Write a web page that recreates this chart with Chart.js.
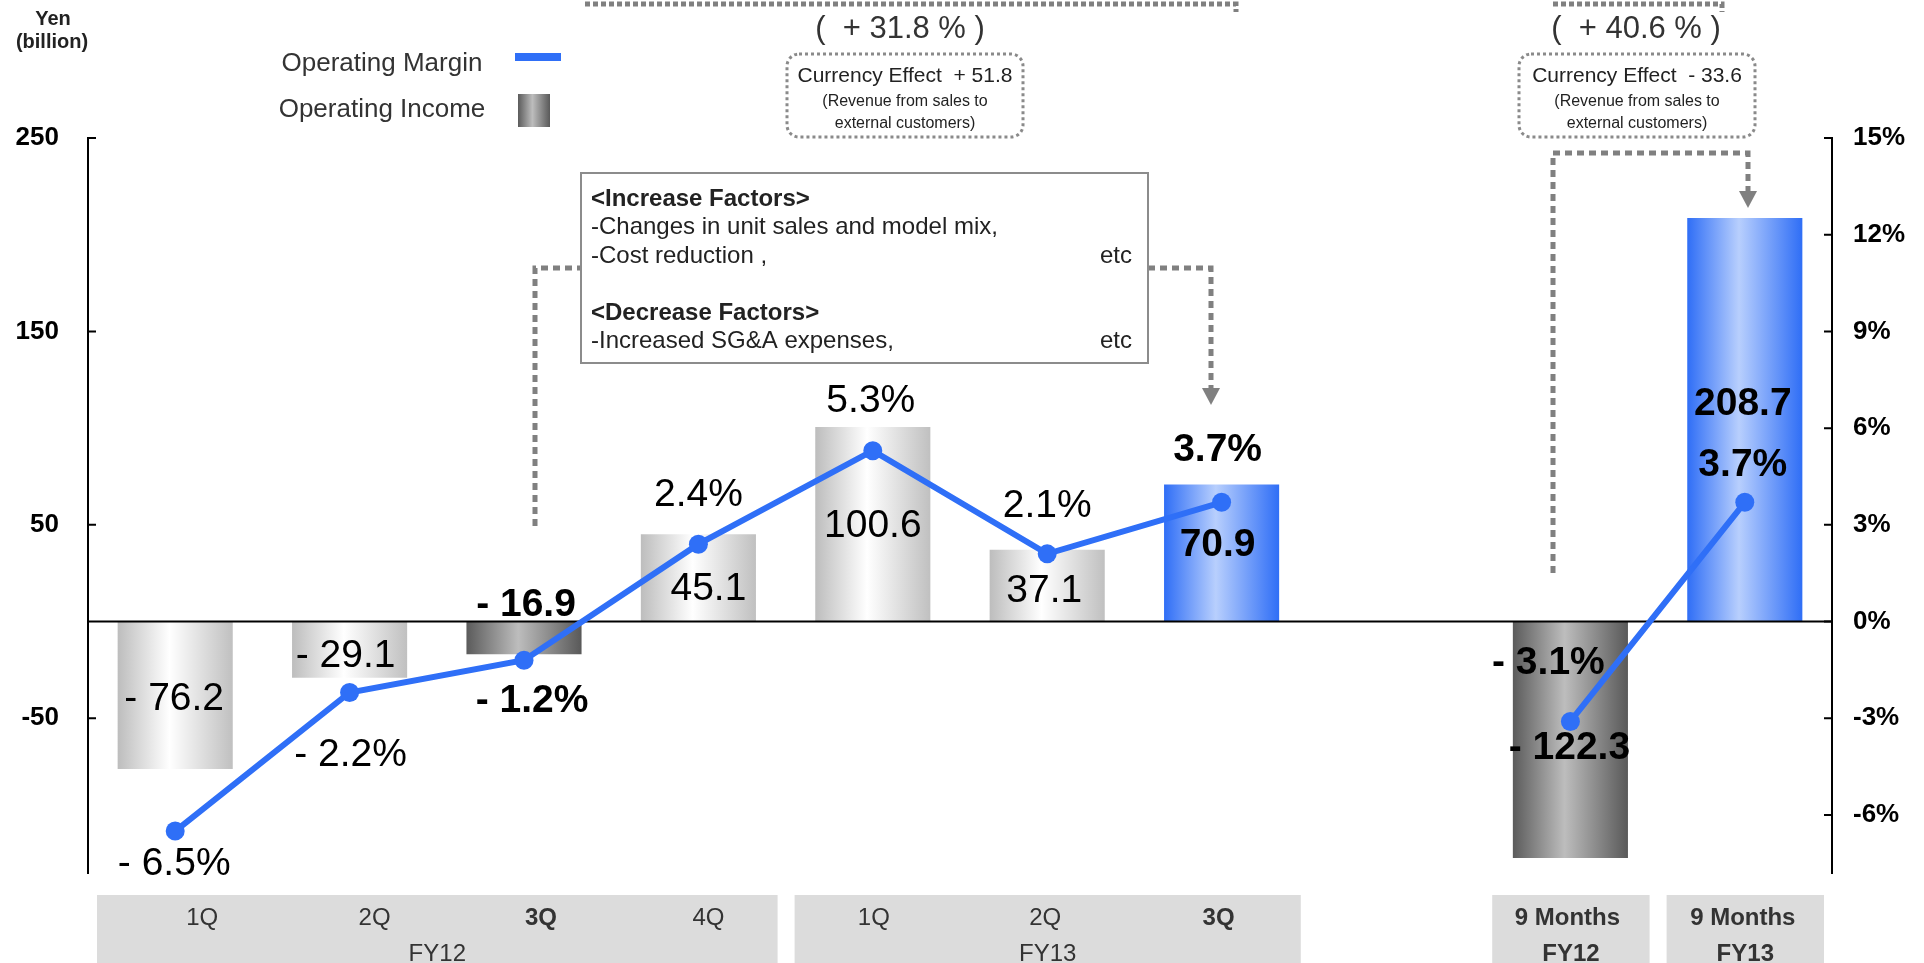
<!DOCTYPE html>
<html>
<head>
<meta charset="utf-8">
<script src="https://cdn.jsdelivr.net/npm/chart.js@4.4.1/dist/chart.umd.min.js"></script>
<style>
  html, body { margin: 0; padding: 0; background: #fff; overflow: hidden; }
  #wrap { width: 1924px; height: 963px; position: relative; }
</style>
</head>
<body>
<div id="wrap"><canvas id="incomeChart"></canvas></div>
<script>
// Operating income (Yen billion) and operating margin (%) by quarter
const categories = ['1Q', '2Q', '3Q', '4Q', '1Q', '2Q', '3Q', '', '9 Months', '9 Months'];
const fiscalYears = ['FY12', 'FY12', 'FY12', 'FY12', 'FY13', 'FY13', 'FY13', '', 'FY12', 'FY13'];
const operatingIncome = [-76.2, -29.1, -16.9, 45.1, 100.6, 37.1, 70.9, null, -122.3, 208.7];
const operatingMargin = [-6.5, -2.2, -1.2, 2.4, 5.3, 2.1, 3.7, null, -3.1, 3.7];
const incomeTicks = [-50, 50, 150, 250];
const marginTicks = [-6, -3, 0, 3, 6, 9, 12, 15];

// the current quarter and the 9-month totals are highlighted
const highlight = [false, false, true, false, false, false, true, false, true, true];
const barTone = ['light', 'light', 'dark', 'light', 'light', 'light', 'blue', null, 'dark', 'blue'];
const barStops = {
  light: ['#bdbdbd', '#ffffff', '#c0c0c0'],
  dark: ['#5b5b5b', '#bdbdbd', '#595959'],
  blue: ['#2f6ef6', '#b8cffd', '#2f6ef6']
};
const BLUE = '#2f6ff7';
const BAR_PCT = 0.66;
const FONT = '"Liberation Sans", Arial, sans-serif';

// label nudges [dx, dy] relative to the bar end / line point
const incomeLabelShift = [[-1, -59], [-4, -11], [2, -38], [10, 66], [0, 110], [-3, 52], [-4, 72], null, [-1, -99], [-2, 197]];
const marginLabelShift = [[-1, 44], [1, 74], [8, 52], [0, -38], [-2, -39], [0, -37], [-4, -41], null, [-22, -47], [-2, -26]];
const categoryShift = [27, 25, 17, 10, 1, -2, -3, 0, -3, -2];

Chart.defaults.font.family = FONT;

function fmt(v, suffix) {
  return (v < 0 ? '- ' + Math.abs(v).toFixed(1) : v.toFixed(1)) + suffix;
}

function hGradient(ctx, x0, x1, stops) {
  const g = ctx.createLinearGradient(x0, 0, x1, 0);
  g.addColorStop(0, stops[0]);
  g.addColorStop(0.45, stops[1]);
  g.addColorStop(1, stops[2]);
  return g;
}

function barFill(context) {
  const chart = context.chart;
  const xs = chart.scales.x;
  const tone = barTone[context.dataIndex];
  if (context.type !== 'data' || !tone || !xs) return '#c8c8c8';
  const cx = xs.getPixelForValue(context.dataIndex);
  const half = (xs.width / categories.length) * BAR_PCT / 2;
  if (!isFinite(cx) || !isFinite(half) || half <= 0) return barStops[tone][0];
  return hGradient(chart.ctx, cx - half, cx + half, barStops[tone]);
}

function dotted(ctx, pts, dash, width) {
  ctx.save();
  ctx.strokeStyle = '#808080';
  ctx.lineWidth = width;
  ctx.setLineDash(dash);
  ctx.beginPath();
  ctx.moveTo(pts[0][0], pts[0][1]);
  for (let i = 1; i < pts.length; i++) ctx.lineTo(pts[i][0], pts[i][1]);
  ctx.stroke();
  ctx.restore();
}

function arrowHead(ctx, x, y) {
  ctx.fillStyle = '#808080';
  ctx.beginPath();
  ctx.moveTo(x - 9, y - 17);
  ctx.lineTo(x + 9, y - 17);
  ctx.lineTo(x, y);
  ctx.closePath();
  ctx.fill();
}

function roundBox(ctx, x, y, w, h, r) {
  ctx.save();
  ctx.strokeStyle = '#8a8a8a';
  ctx.lineWidth = 3;
  ctx.setLineDash([3, 3]);
  ctx.beginPath();
  ctx.roundRect(x, y, w, h, r);
  ctx.stroke();
  ctx.restore();
}

// zero line drawn over the bars, under the margin line
const zeroLine = {
  id: 'zeroLine',
  afterDatasetDraw(chart, args) {
    if (args.index !== 1) return;
    const {ctx, chartArea, scales: {y}} = chart;
    const py = y.getPixelForValue(0);
    ctx.save();
    ctx.strokeStyle = '#000';
    ctx.lineWidth = 2;
    ctx.beginPath();
    ctx.moveTo(chartArea.left, py);
    ctx.lineTo(chartArea.right, py);
    ctx.stroke();
    ctx.restore();
  }
};

// short tick marks pointing into the plot
const innerTicks = {
  id: 'innerTicks',
  afterDraw(chart) {
    const {ctx, chartArea, scales: {y, y1}} = chart;
    ctx.save();
    ctx.strokeStyle = '#000';
    ctx.lineWidth = 2;
    ctx.beginPath();
    y.ticks.forEach(t => {
      const py = y.getPixelForValue(t.value);
      ctx.moveTo(chartArea.left, py);
      ctx.lineTo(chartArea.left + 8, py);
    });
    y1.ticks.forEach(t => {
      const py = y1.getPixelForValue(t.value);
      ctx.moveTo(chartArea.right - 8, py);
      ctx.lineTo(chartArea.right, py);
    });
    ctx.stroke();
    ctx.restore();
  }
};

const valueLabels = {
  id: 'valueLabels',
  afterDatasetsDraw(chart) {
    const {ctx, scales: {x, y, y1}} = chart;
    ctx.save();
    ctx.textAlign = 'center';
    ctx.textBaseline = 'alphabetic';
    ctx.fillStyle = '#000';
    operatingIncome.forEach((v, i) => {
      if (v === null) return;
      ctx.font = (highlight[i] ? 'bold ' : '') + '39px ' + FONT;
      const s = incomeLabelShift[i];
      ctx.fillText(fmt(v, ''), x.getPixelForValue(i) + s[0], y.getPixelForValue(v) + s[1]);
    });
    operatingMargin.forEach((v, i) => {
      if (v === null) return;
      ctx.font = (highlight[i] ? 'bold ' : '') + '39px ' + FONT;
      const s = marginLabelShift[i];
      ctx.fillText(fmt(v, '%'), x.getPixelForValue(i) + s[0], y1.getPixelForValue(v) + s[1]);
    });
    ctx.restore();
  }
};

// grey bands with quarter / fiscal year labels under the plot
const categoryBands = {
  id: 'categoryBands',
  afterDraw(chart) {
    const {ctx, scales: {x}} = chart;
    const slot = x.width / categories.length;
    const groups = [[0, 3], [4, 6], [8, 8], [9, 9]];
    ctx.save();
    ctx.fillStyle = '#dcdcdc';
    groups.forEach(([a, b]) => {
      const l = x.left + a * slot + 9;
      const r = x.left + (b + 1) * slot - 8;
      ctx.fillRect(l, 895, r - l, 68);
    });
    ctx.fillStyle = '#333';
    ctx.textAlign = 'center';
    categories.forEach((c, i) => {
      if (!c) return;
      ctx.font = (highlight[i] ? 'bold ' : '') + '24px ' + FONT;
      ctx.fillText(c, x.getPixelForValue(i) + categoryShift[i], 925);
    });
    groups.forEach(([a, b]) => {
      const l = x.left + a * slot + 9;
      const r = x.left + (b + 1) * slot - 8;
      ctx.font = (a === b ? 'bold ' : '') + '24px ' + FONT;
      ctx.fillText(fiscalYears[a], (l + r) / 2, 961);
    });
    ctx.restore();
  }
};

// unit caption, legend, currency boxes and factor notes
const notes = {
  id: 'notes',
  afterDraw(chart) {
    const ctx = chart.ctx;
    ctx.save();
    ctx.textAlign = 'center';
    ctx.fillStyle = '#222';
    ctx.font = 'bold 20px ' + FONT;
    ctx.fillText('Yen', 53, 25);
    ctx.fillText('(billion)', 52, 48);

    // legend
    ctx.fillStyle = '#333';
    ctx.font = '26px ' + FONT;
    ctx.fillText('Operating Margin', 382, 71);
    ctx.fillText('Operating Income', 382, 117);
    ctx.fillStyle = BLUE;
    ctx.fillRect(515, 53, 46, 8);
    ctx.fillStyle = hGradient(ctx, 518, 550, barStops.dark);
    ctx.fillRect(518, 94, 32, 33);

    // growth brackets along the top edge
    dotted(ctx, [[585, 4], [1236, 4], [1236, 12]], [5, 3], 5);
    dotted(ctx, [[1553, 4], [1722, 4], [1722, 12]], [5, 3], 5);
    ctx.fillStyle = '#333';
    ctx.font = '31px ' + FONT;
    ctx.fillText('(  + 31.8 % )', 900, 38);
    ctx.fillText('(  + 40.6 % )', 1636, 38);

    // currency effect boxes
    roundBox(ctx, 787, 54, 236, 83, 12);
    roundBox(ctx, 1519, 54, 236, 83, 12);
    [[905, 'Currency Effect  + 51.8'], [1637, 'Currency Effect  - 33.6']].forEach(([cx, t]) => {
      ctx.fillStyle = '#222';
      ctx.font = '21px ' + FONT;
      ctx.fillText(t, cx, 82);
      ctx.font = '16px ' + FONT;
      ctx.fillText('(Revenue from sales to', cx, 106);
      ctx.fillText('external customers)', cx, 128);
    });

    // connectors with arrows
    dotted(ctx, [[535, 526], [535, 268], [581, 268]], [7, 5], 5);
    dotted(ctx, [[1148, 268], [1211, 268], [1211, 389]], [7, 5], 5);
    arrowHead(ctx, 1211, 405);
    dotted(ctx, [[1553, 573], [1553, 153], [1748, 153], [1748, 192]], [7, 5], 5);
    arrowHead(ctx, 1748, 208);

    // factor box
    ctx.fillStyle = '#fff';
    ctx.fillRect(581, 173, 567, 190);
    ctx.strokeStyle = '#8c8c8c';
    ctx.lineWidth = 2;
    ctx.strokeRect(581, 173, 567, 190);
    ctx.fillStyle = '#222';
    ctx.textAlign = 'left';
    ctx.font = 'bold 24px ' + FONT;
    ctx.fillText('<Increase Factors>', 591, 206);
    ctx.fillText('<Decrease Factors>', 591, 320);
    ctx.font = '24px ' + FONT;
    ctx.fillText('-Changes in unit sales and model mix,', 591, 234);
    ctx.fillText('-Cost reduction ,', 591, 263);
    ctx.fillText('-Increased SG&A expenses,', 591, 348);
    ctx.textAlign = 'right';
    ctx.fillText('etc', 1132, 263);
    ctx.fillText('etc', 1132, 348);
    ctx.restore();
  }
};

new Chart(document.getElementById('incomeChart'), {
  type: 'bar',
  data: {
    labels: categories,
    datasets: [
      {
        type: 'line',
        label: 'Operating Margin',
        data: operatingMargin,
        yAxisID: 'y1',
        borderColor: BLUE,
        backgroundColor: BLUE,
        borderWidth: 6,
        pointRadius: 9.5,
        pointBorderWidth: 0,
        pointBackgroundColor: BLUE,
        tension: 0,
        spanGaps: false
      },
      {
        type: 'bar',
        label: 'Operating Income',
        data: operatingIncome,
        yAxisID: 'y',
        backgroundColor: barFill,
        borderWidth: 0,
        barPercentage: BAR_PCT,
        categoryPercentage: 1
      }
    ]
  },
  options: {
    responsive: true,
    maintainAspectRatio: false,
    animation: false,
    events: [],
    layout: { padding: { top: 138, bottom: 90, left: 0, right: 0 } },
    plugins: {
      legend: { display: false },
      tooltip: { enabled: false }
    },
    scales: {
      x: { display: false },
      y: {
        position: 'left',
        min: -130,
        max: 250,
        afterBuildTicks: s => { s.ticks = incomeTicks.map(v => ({ value: v })); },
        afterFit: s => { s.width = 88; },
        grid: { display: false, drawTicks: false },
        border: { display: true, color: '#000', width: 2 },
        ticks: { color: '#000', padding: 29, font: { size: 26, weight: 'bold' } }
      },
      y1: {
        position: 'right',
        min: -7.8,
        max: 15,
        afterBuildTicks: s => { s.ticks = marginTicks.map(v => ({ value: v })); },
        afterFit: s => { s.width = 92; },
        grid: { display: false, drawTicks: false },
        border: { display: true, color: '#000', width: 2 },
        ticks: { color: '#000', padding: 21, font: { size: 26, weight: 'bold' }, callback: v => v + '%' }
      }
    }
  },
  plugins: [zeroLine, innerTicks, valueLabels, categoryBands, notes]
});
</script>
</body>
</html>
